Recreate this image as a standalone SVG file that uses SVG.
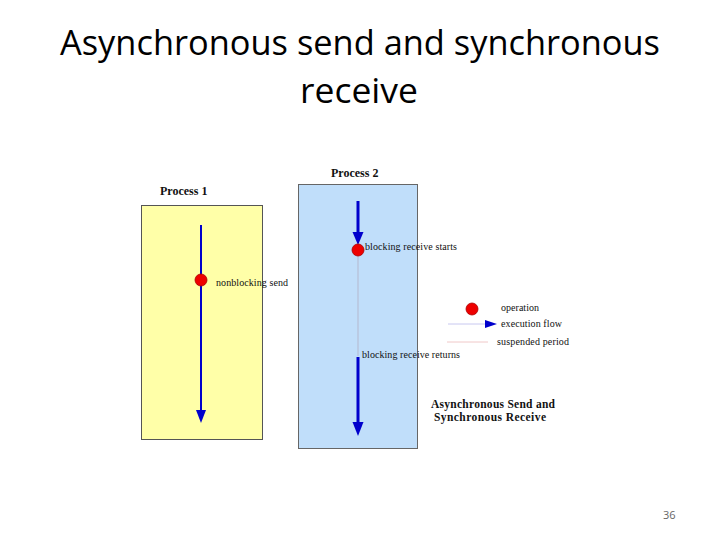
<svg xmlns="http://www.w3.org/2000/svg" width="720" height="540" viewBox="0 0 720 540">
<style>
.title{font-family:"Open Sans","Noto Sans","Liberation Sans",sans-serif;font-size:34px;fill:#000}
.lbl{font-family:"Liberation Serif","DejaVu Serif",serif;font-size:10px;fill:#111}
.hd{font-family:"Liberation Serif","DejaVu Serif",serif;font-size:12px;font-weight:bold;fill:#111}
.cap{font-family:"Liberation Serif","DejaVu Serif",serif;font-size:11.5px;font-weight:bold;fill:#111}
.flow{stroke:#0000cc;fill:none}
.head{fill:#0000cc}
.dot{fill:#ee0000;stroke:#aa0000;stroke-width:0.8}
.susp{stroke:#b8c4dc;stroke-width:1.5}
</style>
<rect width="720" height="540" fill="#fff"/>
<g id="title">
<text class="title" x="60" y="55" textLength="600" lengthAdjust="spacingAndGlyphs">Asynchronous send and synchronous</text>
<text class="title" x="300" y="103" textLength="118" lengthAdjust="spacingAndGlyphs">receive</text>
</g>
<g id="process1">
<rect x="141.5" y="205.5" width="121" height="234" fill="#ffffa8" stroke="#555" stroke-width="1"/>
<text class="hd" x="160" y="195">Process 1</text>
</g>
<g id="process2">
<rect x="298.5" y="184.5" width="119" height="264" fill="#c0defa" stroke="#666" stroke-width="1"/>
<text class="hd" x="331" y="177">Process 2</text>
</g>
<g id="connectors">
<line class="flow" x1="201" y1="225" x2="201" y2="411" stroke-width="2"/>
<polygon class="head" points="196,410 206,410 201,423"/>
<line class="flow" x1="358" y1="201" x2="358" y2="233" stroke-width="3"/>
<polygon class="head" points="352.5,232 363.5,232 358,245"/>
<line class="susp" x1="358" y1="256" x2="358" y2="356"/>
<line class="flow" x1="358" y1="357" x2="358" y2="423" stroke-width="3"/>
<polygon class="head" points="352.5,422 363.5,422 358,436"/>
</g>
<g id="op-send">
<circle class="dot" cx="201" cy="280" r="6"/>
<text class="lbl" x="216" y="286" textLength="72">nonblocking send</text>
</g>
<g id="op-recv-start">
<circle class="dot" cx="358" cy="250" r="6"/>
<text class="lbl" x="365" y="250" textLength="92">blocking receive starts</text>
</g>
<g id="op-recv-return">
<text class="lbl" x="362" y="358" textLength="98">blocking receive returns</text>
</g>
<g id="legend">
<circle class="dot" cx="472" cy="309" r="6"/>
<text class="lbl" x="501" y="311" textLength="38">operation</text>
<line x1="448" y1="324" x2="487" y2="324" stroke="#c8c8f0" stroke-width="1"/>
<polygon class="head" points="485,320 497,324 485,328"/>
<text class="lbl" x="501" y="327" textLength="61">execution flow</text>
<line x1="447" y1="342" x2="488" y2="342" stroke="#f0c8c8" stroke-width="1"/>
<text class="lbl" x="497" y="345" textLength="72">suspended period</text>
</g>
<g id="caption">
<text class="cap" x="431" y="408" textLength="124">Asynchronous Send and</text>
<text class="cap" x="434" y="421" textLength="112">Synchronous Receive</text>
</g>
<text x="663" y="519" font-family="Open Sans,Liberation Sans,sans-serif" font-size="11px" fill="#666">36</text>
</svg>
